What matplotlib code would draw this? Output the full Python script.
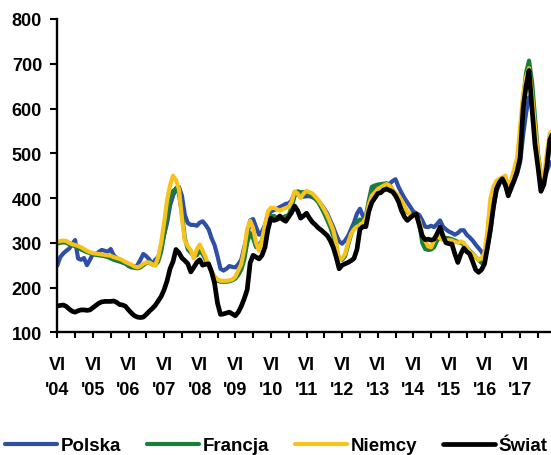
import numpy as np
import matplotlib
matplotlib.use("Agg")
import matplotlib.pyplot as plt
from matplotlib.ticker import FixedLocator

# ---- data (monthly, starting VI 2004) ----
polska = [249, 268, 276, 282, 287, 297, 306, 265, 262, 266, 250, 262, 275, 274, 280, 284, 282, 280, 286, 272,
          266, 260, 256, 254, 248, 245, 245, 250, 262, 275, 270, 263, 252, 262, 268, 290, 318, 345, 383, 405,
          422, 425, 405, 362, 344, 340, 340, 338, 345, 348, 340, 330, 310, 295, 270, 242, 238, 242, 248, 246,
          245, 252, 262, 290, 315, 350, 353, 335, 318, 325, 340, 362, 370, 373, 376, 380, 383, 387, 388, 395,
          412, 408, 404, 403, 404, 404, 402, 398, 394, 385, 376, 365, 350, 335, 318, 303, 298, 305, 315, 330,
          345, 365, 376, 360, 350, 380, 410, 420, 425, 430, 430, 428, 432, 438, 442, 425, 412, 400, 390, 380,
          370, 366, 362, 350, 336, 335, 338, 335, 342, 350, 336, 330, 325, 322, 318, 322, 328, 328, 318, 312,
          305, 296, 288, 280, 265, 290, 330, 380, 415, 432, 440, 428, 408, 420, 438, 455, 480, 540, 590, 625,
          610, 550, 490, 450, 440, 460, 478, 482]

francja = [298, 300, 301, 300, 297, 295, 292, 289, 285, 282, 279, 277, 275, 273, 272, 271, 270, 268, 265, 262,
           260, 258, 256, 253, 250, 247, 244, 243, 245, 250, 255, 256, 252, 250, 258, 280, 318, 360, 400, 416,
           420, 410, 365, 310, 285, 278, 270, 272, 282, 275, 262, 250, 235, 222, 215, 213, 213, 213, 214, 216,
           220, 228, 240, 262, 300, 322, 310, 290, 295, 305, 335, 355, 360, 360, 356, 353, 357, 360, 362, 380,
           405, 415, 413, 413, 413, 410, 405, 398, 390, 378, 365, 350, 335, 315, 290, 262, 262, 270, 295, 318,
           335, 346, 352, 350, 360, 395, 425, 428, 430, 431, 432, 433, 430, 418, 410, 398, 385, 375, 368, 364,
           362, 360, 345, 300, 286, 284, 285, 290, 305, 312, 312, 311, 310, 308, 305, 302, 300, 296, 290, 282,
           276, 268, 262, 255, 255, 300, 370, 415, 435, 440, 444, 445, 420, 435, 455, 480, 530, 620, 680, 707,
           660, 580, 500, 450, 440, 475, 520, 530]

niemcy = [302, 304, 305, 304, 300, 297, 295, 293, 290, 286, 282, 279, 277, 276, 275, 274, 273, 272, 271, 268,
          266, 264, 261, 257, 254, 251, 247, 245, 248, 253, 256, 256, 252, 249, 268, 300, 345, 395, 428, 450,
          440, 420, 355, 305, 292, 283, 265, 285, 296, 282, 268, 248, 235, 225, 218, 215, 215, 215, 216, 218,
          224, 238, 252, 285, 330, 349, 333, 300, 282, 305, 340, 370, 378, 378, 375, 372, 375, 378, 380, 392,
          415, 410, 400, 410, 416, 413, 410, 403, 395, 385, 374, 361, 345, 328, 300, 260, 265, 275, 300, 320,
          330, 336, 338, 345, 355, 385, 405, 412, 420, 424, 428, 431, 428, 418, 412, 405, 395, 382, 370, 363,
          360, 358, 350, 320, 305, 292, 290, 305, 318, 310, 306, 305, 306, 305, 302, 300, 303, 300, 290, 280,
          275, 268, 262, 265, 278, 330, 400, 425, 438, 443, 446, 450, 425, 440, 465, 490, 560, 630, 670, 690,
          630, 560, 495, 455, 445, 500, 545, 550]

swiat = [159, 160, 161, 158, 152, 147, 145, 148, 150, 150, 149, 150, 155, 160, 165, 168, 169, 169, 169, 170,
         167, 162, 161, 158, 150, 143, 137, 134, 133, 134, 140, 147, 153, 160, 170, 180, 195, 215, 242, 258,
         285, 278, 266, 260, 253, 235, 245, 256, 262, 250, 252, 253, 235, 210, 165, 140, 141, 143, 145, 141,
         137, 145, 158, 175, 195, 255, 272, 268, 264, 272, 290, 330, 355, 350, 352, 360, 352, 348, 358, 368,
         382, 372, 355, 360, 366, 355, 346, 340, 333, 328, 322, 316, 305, 290, 268, 242, 250, 253, 256, 260,
         265, 285, 330, 336, 336, 370, 390, 400, 410, 412, 418, 420, 417, 414, 405, 392, 372, 358, 350, 356,
         362, 364, 340, 315, 307, 308, 306, 308, 320, 335, 315, 300, 298, 297, 275, 256, 275, 288, 280, 275,
         258, 240, 234, 240, 253, 290, 330, 380, 420, 435, 443, 430, 405, 425, 440, 460, 490, 600, 650, 685,
         600, 520, 470, 415, 430, 470, 530, 545]

series_names = ["Polska", "Francja", "Niemcy", "Świat"]
years = ["'04", "'05", "'06", "'07", "'08", "'09", "'10", "'11", "'12", "'13", "'14", "'15", "'16", "'17"]
month_label = "VI"
y_ticks = [100, 200, 300, 400, 500, 600, 700, 800]

colors = ["#2F4FA6", "#1B7D3A", "#F6C21C", "#000000"]
widths = [3.0, 3.0, 3.0, 3.4]

plt.rcParams['font.family'] = ['Liberation Sans', 'DejaVu Sans']
plt.rcParams['font.weight'] = 'bold'

fig = plt.figure(figsize=(5.51, 4.56), dpi=100)
W, H = 551, 456
ax = fig.add_axes([57.3 / W, (H - 333.3) / H, 1 - 57.3 / W, (333.3 - 20) / H])

data = [polska, francja, niemcy, swiat]
for vals, name, c, lw in zip(data, series_names, colors, widths):
    x = np.arange(len(vals))
    ax.plot(x, vals, color=c, lw=lw, label=name, solid_joinstyle='round', solid_capstyle='round')

ax.set_ylim(100, 800)
ax.set_xlim(0, 166.4)
ax.set_yticks(y_ticks)
ax.set_yticklabels([str(v) for v in y_ticks])

major = [12 * i for i in range(len(years))]
minor = [12 * i + 6 for i in range(len(years))]
ax.xaxis.set_major_locator(FixedLocator(major))
ax.xaxis.set_minor_locator(FixedLocator(minor))
ax.set_xticklabels([f"{month_label}\n{y}" for y in years], linespacing=1.6)

for s in ["top", "right"]:
    ax.spines[s].set_visible(False)
for s in ["left", "bottom"]:
    ax.spines[s].set_linewidth(1.7)
    ax.spines[s].set_color("black")

ax.tick_params(axis='y', which='both', direction='out', length=5, width=1.5, pad=6, labelsize=13)
ax.tick_params(axis='x', which='both', direction='out', length=4.5, width=1.5, pad=12.5, labelsize=13)

fig.legend(loc='lower left', bbox_to_anchor=(5 / W, 0.5 / H), ncol=4, frameon=False,
           handlelength=2.75, handletextpad=0.2, columnspacing=1.4, borderpad=0, borderaxespad=0,
           prop={'weight': 'bold', 'size': 13.5})

fig.savefig("out.png", dpi=100)
